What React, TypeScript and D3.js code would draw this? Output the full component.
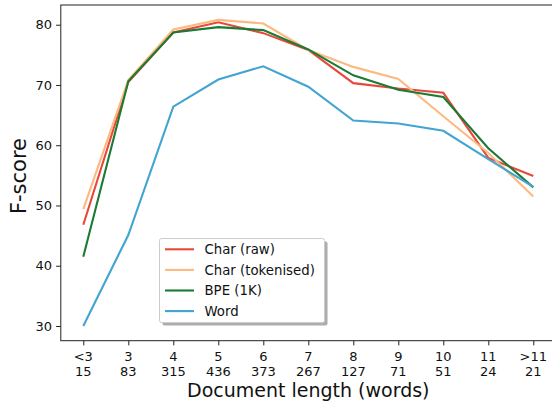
import { useEffect, useRef } from "react";
import * as d3 from "d3";

const categories = ["<3", "3", "4", "5", "6", "7", "8", "9", "10", "11", ">11"];
const docCounts = [15, 83, 315, 436, 373, 267, 127, 71, 51, 24, 21];

const charRaw = [46.8, 70.5, 78.7, 80.4, 78.6, 75.8, 70.3, 69.4, 68.7, 57.9, 54.9];
const charTok = [49.4, 70.8, 79.2, 80.8, 80.2, 75.8, 73.0, 71.0, 64.8, 58.7, 51.5];
const bpe1k = [41.5, 70.6, 78.7, 79.6, 79.1, 75.9, 71.6, 69.2, 68.0, 59.5, 53.0];
const word = [30.0, 45.1, 66.4, 70.9, 73.1, 69.7, 64.1, 63.6, 62.4, 57.7, 53.1];

const yTicks = [30, 40, 50, 60, 70, 80];

const series = [
  { name: "Char (raw)", values: charRaw, color: "#e8483a" },
  { name: "Char (tokenised)", values: charTok, color: "#fdb97f" },
  { name: "BPE (1K)", values: bpe1k, color: "#1b7a34" },
  { name: "Word", values: word, color: "#42a4d0" },
];

const W = 552;
const H = 405;
const FONT = "DejaVu Sans, sans-serif";

const App = () => {
  const svgRef = useRef<SVGSVGElement>(null);

  useEffect(() => {
    if (!svgRef.current) return;
    const svg = d3.select(svgRef.current);
    svg.selectAll("*").remove();

    // plot box (right edge runs off the image like the original)
    const left = 60.8;
    const right = 555.8;
    const top = 5;
    const bottom = 340.7;

    const x = d3.scaleLinear().domain([-0.5, categories.length - 0.5]).range([left, right]);
    const y = d3.scaleLinear().domain([27.56, 83.27]).range([bottom, top]);

    // series lines
    const line = d3
      .line<number>()
      .x((_, i) => x(i))
      .y((d) => y(d));

    series.forEach((s) => {
      svg
        .append("path")
        .datum(s.values)
        .attr("fill", "none")
        .attr("stroke", s.color)
        .attr("stroke-width", 2.1)
        .attr("stroke-linejoin", "miter")
        .attr("stroke-linecap", "butt")
        .attr("d", line);
    });

    // frame
    svg
      .append("rect")
      .attr("x", left)
      .attr("y", top)
      .attr("width", right - left)
      .attr("height", bottom - top)
      .attr("fill", "none")
      .attr("stroke", "#222")
      .attr("stroke-width", 1);

    // y axis
    const yAxis = svg
      .append("g")
      .attr("transform", `translate(${left},0)`)
      .call(d3.axisLeft(y).tickValues(yTicks).tickSize(4.7).tickPadding(4).tickFormat(d3.format("d")));
    yAxis.select(".domain").remove();
    yAxis.selectAll(".tick line").attr("stroke", "#222");
    yAxis
      .selectAll(".tick text")
      .attr("font-family", FONT)
      .attr("font-size", 13)
      .attr("fill", "#111");

    // x axis, two-line tick labels
    const xAxis = svg
      .append("g")
      .attr("transform", `translate(0,${bottom})`)
      .call(
        d3
          .axisBottom(x)
          .tickValues(d3.range(categories.length))
          .tickSize(4.7)
          .tickFormat(() => "")
      );
    xAxis.select(".domain").remove();
    xAxis.selectAll(".tick line").attr("stroke", "#222");

    const labels = svg
      .append("g")
      .attr("font-family", FONT)
      .attr("font-size", 13)
      .attr("fill", "#111")
      .attr("text-anchor", "middle");
    categories.forEach((c, i) => {
      const t = labels.append("text").attr("x", x(i)).attr("y", 361);
      t.append("tspan").attr("x", x(i)).text(c);
      t.append("tspan").attr("x", x(i)).attr("dy", 15).text(String(docCounts[i]));
    });

    // axis titles
    svg
      .append("text")
      .attr("x", (left + right) / 2)
      .attr("y", 397)
      .attr("text-anchor", "middle")
      .attr("font-family", FONT)
      .attr("font-size", 19)
      .attr("fill", "#111")
      .text("Document length (words)");

    svg
      .append("text")
      .attr("transform", `translate(26,176) rotate(-90)`)
      .attr("text-anchor", "middle")
      .attr("font-family", FONT)
      .attr("font-size", 21)
      .attr("fill", "#111")
      .text("F-score");

    // legend
    const lg = svg.append("g").attr("transform", "translate(159.5,238.5)");
    lg.append("rect")
      .attr("x", 3)
      .attr("y", 3)
      .attr("width", 165)
      .attr("height", 84)
      .attr("rx", 2)
      .attr("fill", "#8a8a8a")
      .attr("opacity", 0.7);
    lg.append("rect")
      .attr("width", 165)
      .attr("height", 84)
      .attr("rx", 2)
      .attr("fill", "#fff")
      .attr("stroke", "#cccccc")
      .attr("stroke-width", 1);
    series.forEach((s, i) => {
      const yy = 10.8 + i * 20.6;
      lg.append("line")
        .attr("x1", 5.5)
        .attr("x2", 34.5)
        .attr("y1", yy)
        .attr("y2", yy)
        .attr("stroke", s.color)
        .attr("stroke-width", 2.1);
      lg.append("text")
        .attr("x", 45)
        .attr("y", yy + 4.7)
        .attr("font-family", FONT)
        .attr("font-size", 13.3)
        .attr("fill", "#111")
        .text(s.name);
    });
  }, []);

  return (
    <div style={{ position: "absolute", left: 0, top: 0, width: W, height: H, background: "#fff" }}>
      <svg ref={svgRef} width={W} height={H} style={{ display: "block" }} />
    </div>
  );
};

export default App;
